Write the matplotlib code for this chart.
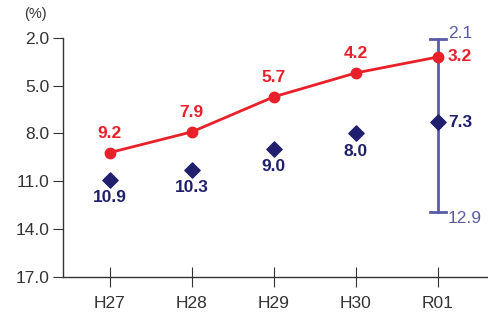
import matplotlib.pyplot as plt

plt.rcParams['font.family'] = ['Liberation Sans', 'DejaVu Sans']

years = ['H27', 'H28', 'H29', 'H30', 'R01']
red_vals = [9.2, 7.9, 5.7, 4.2, 3.2]
navy_vals = [10.9, 10.3, 9.0, 8.0, 7.3]
err_low = 2.1
err_high = 12.9

red = '#e8202a'
navy = '#1f1f6e'
purple = '#5b5ba8'
grey = '#333333'

fig = plt.figure(figsize=(4.88, 3.18), dpi=100)
ax = fig.add_axes([0.129, 0.129, 0.871, 0.752])

x = list(range(len(years)))

# error bar on last year
last = x[-1]
ax.plot([last, last], [err_low, err_high], color=purple, lw=2, zorder=1)
ax.plot([last - 0.1, last + 0.1], [err_low, err_low], color=purple, lw=2, zorder=1)
ax.plot([last - 0.1, last + 0.1], [err_high, err_high], color=purple, lw=2, zorder=1)
ax.text(last + 0.12, err_low - 0.35, f'{err_low:.1f}', color=purple, fontsize=12.5,
        ha='left', va='center')
ax.text(last + 0.12, err_high + 0.45, f'{err_high:.1f}', color=purple, fontsize=12.5,
        ha='left', va='center')

ax.plot(x, red_vals, color=red, lw=2, marker='o', ms=7.5, zorder=3)
ax.scatter(x, navy_vals, color=navy, marker='D', s=60, zorder=3)

for i, v in enumerate(red_vals):
    if i == len(x) - 1:
        ax.text(i + 0.12, v, f'{v:.1f}', color=red, fontsize=12.5, fontweight='bold',
                ha='left', va='center')
    else:
        ax.text(i, v - 1.2, f'{v:.1f}', color=red, fontsize=12.5, fontweight='bold',
                ha='center', va='center')

for i, v in enumerate(navy_vals):
    if i == len(x) - 1:
        ax.text(i + 0.12, v, f'{v:.1f}', color=navy, fontsize=12.5, fontweight='bold',
                ha='left', va='center')
    else:
        ax.text(i, v + 1.1, f'{v:.1f}', color=navy, fontsize=12.5, fontweight='bold',
                ha='center', va='center')

ax.set_ylim(17.0, 2.0)
ax.set_yticks([2.0, 5.0, 8.0, 11.0, 14.0, 17.0])
ax.set_yticklabels([f'{t:.1f}' for t in [2.0, 5.0, 8.0, 11.0, 14.0, 17.0]])
ax.set_xlim(-0.57, 4.61)
ax.set_xticks(x)
ax.set_xticklabels(years)

ax.spines['top'].set_visible(False)
ax.spines['right'].set_visible(False)
for s in ['left', 'bottom']:
    ax.spines[s].set_color(grey)
    ax.spines[s].set_linewidth(1)
ax.tick_params(axis='y', direction='out', length=7, colors=grey, labelsize=12.5, pad=3)
ax.tick_params(axis='x', direction='inout', length=14, colors=grey, labelsize=12.5, pad=7)

fig.text(0.072, 0.955, '(%)', color=grey, fontsize=10.5, ha='center', va='center')

fig.savefig('out.png', dpi=100)
